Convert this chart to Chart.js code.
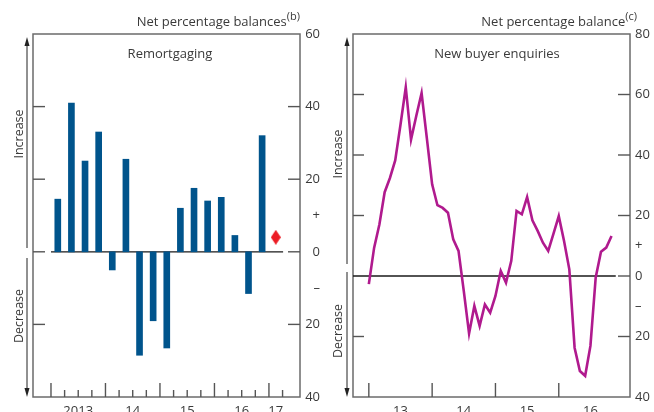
<!DOCTYPE html>
<html>
<head>
<meta charset="utf-8">
<script src="https://cdn.jsdelivr.net/npm/chart.js@4.4.0/dist/chart.umd.min.js"></script>
<style>
  body { margin: 0; background: #fff; }
  #wrap { position: relative; width: 654px; height: 412px; overflow: hidden; }
  .panel { position: absolute; top: 0; width: 327px; height: 412px; }
</style>
</head>
<body>
<div id="wrap">
  <div class="panel" style="left:0"><canvas id="left"></canvas></div>
  <div class="panel" style="left:327px"><canvas id="right"></canvas></div>
</div>
<script>
// Remortgaging, quarterly net balances
let remortQuarters = ['2013Q1','2013Q2','2013Q3','2013Q4','2014Q1','2014Q2','2014Q3','2014Q4',
                      '2015Q1','2015Q2','2015Q3','2015Q4','2016Q1','2016Q2','2016Q3','2016Q4']
let remortValues = [14.5, 41, 25, 33, -5, 25.5, -28.5, -19, -26.5, 12, 17.5, 14, 15, 4.5, -11.5, 32]
let remortLatestQuarter = '2017Q1'
let remortLatestValue = 4
let remortYearLabels = ['2013', '14', '15', '16', '17']
let remortYearLabelPos = [2013.5, 2014.5, 2015.5, 2016.5, 2017.125]

// New buyer enquiries, monthly from Jan 2013
let enquiryStart = 2013
let enquiryValues = [-2.7, 9.3, 17, 27.7, 32.4, 38.2, 50, 62.4, 45.1, 53, 60.5, 45.5,
                     30.3, 23.4, 22.5, 20.9, 12.1, 8.3, -5, -19, -9.9, -16.5, -9.4, -12.1,
                     -6.6, 1.7, -2.2, 5, 21.5, 20.4, 26.1, 18.4, 14.9, 11, 8.3, 14,
                     19.8, 11.6, 2.2, -23.7, -31.4, -33, -23.1, -0.5, 8, 9.4, 13.2]
let enquiryYearLabels = ['13', '14', '15', '16']
let enquiryYearLabelPos = [2013.5, 2014.5, 2015.5, 2016.5]

let font = "'Open Sans', 'Noto Sans', sans-serif"
let textColor = '#3a3a3a'

function quarterToX(q) {
    return Number(q.slice(0, 4)) + (Number(q.slice(5)) - 1) * 0.25 + 0.125
}

function diamond(w, h, color) {
    let c = document.createElement('canvas')
    c.width = w
    c.height = h
    let g = c.getContext('2d')
    g.fillStyle = color
    g.beginPath()
    g.moveTo(w / 2, 0)
    g.lineTo(w, h / 2)
    g.lineTo(w / 2, h)
    g.lineTo(0, h / 2)
    g.closePath()
    g.fill()
    return c
}

function yTickLabel(v) {
    if (v === 10) return '+'
    if (v === -10) return '\u2013'
    if (v % 20 === 0) return String(Math.abs(v))
    return ''
}

function line(ctx, x1, y1, x2, y2) {
    ctx.beginPath()
    ctx.moveTo(x1, y1)
    ctx.lineTo(x2, y2)
    ctx.stroke()
}

function arrowHead(ctx, x, y, dir) {
    ctx.beginPath()
    ctx.moveTo(x, y)
    ctx.lineTo(x - 2.5, y - dir * 9)
    ctx.lineTo(x + 2.5, y - dir * 9)
    ctx.closePath()
    ctx.fill()
}

// frame, inward ticks, zero line and the labels around each panel
function decor(cfg) {
    return {
        id: 'decor',
        beforeDatasetsDraw(chart) {
            let ctx = chart.ctx
            let a = chart.chartArea
            let x = chart.scales.x
            let y = chart.scales.y
            ctx.save()
            ctx.strokeStyle = '#6b6b6b'
            ctx.lineWidth = 1.5
            ctx.strokeRect(a.left, a.top, a.width, a.height)
            ctx.strokeStyle = '#555'
            ctx.lineWidth = 1.4
            cfg.leftTicks.forEach(v => {
                let py = y.getPixelForValue(v)
                line(ctx, a.left, py, a.left + cfg.tickLen, py)
            })
            cfg.rightTicks.forEach(v => {
                let py = y.getPixelForValue(v)
                line(ctx, a.right - 12, py, a.right, py)
            })
            cfg.majorX.forEach(v => {
                let px = x.getPixelForValue(v)
                line(ctx, px, a.bottom, px, a.bottom - 14)
            })
            cfg.minorX.forEach(v => {
                let px = x.getPixelForValue(v)
                line(ctx, px, a.bottom, px, a.bottom - 7)
            })
            ctx.strokeStyle = '#1a1a1a'
            ctx.lineWidth = 1.3
            let y0 = y.getPixelForValue(0)
            line(ctx, x.getPixelForValue(cfg.zeroFrom), y0, x.getPixelForValue(cfg.zeroTo), y0)
            ctx.restore()
        },
        afterDraw(chart) {
            let ctx = chart.ctx
            ctx.save()
            ctx.fillStyle = textColor
            ctx.textBaseline = 'alphabetic'
            // header with superscript
            ctx.font = '11px ' + font
            let supW = ctx.measureText(cfg.sup).width
            ctx.textAlign = 'right'
            ctx.fillText(cfg.sup, cfg.headerRight, 20)
            ctx.font = '13px ' + font
            ctx.fillText(cfg.header, cfg.headerRight - supW, 26)
            // panel title
            ctx.textAlign = 'center'
            ctx.fillText(cfg.title, cfg.titleX, 58)
            // increase / decrease
            ctx.font = '12.5px ' + font
            ctx.textBaseline = 'middle'
            ;[['Increase', cfg.incY], ['Decrease', cfg.decY]].forEach(t => {
                ctx.save()
                ctx.translate(cfg.textX, t[1])
                ctx.rotate(-Math.PI / 2)
                ctx.fillText(t[0], 0, 0)
                ctx.restore()
            })
            ctx.strokeStyle = '#222'
            ctx.fillStyle = '#222'
            ctx.lineWidth = 1
            line(ctx, cfg.arrowX, cfg.up[0] + 6, cfg.arrowX, cfg.up[1])
            arrowHead(ctx, cfg.arrowX, cfg.up[0], -1)
            line(ctx, cfg.arrowX, cfg.down[0], cfg.arrowX, cfg.down[1] - 6)
            arrowHead(ctx, cfg.arrowX, cfg.down[1], 1)
            ctx.restore()
        }
    }
}

function yScale(min, max, align, width) {
    return {
        position: 'right',
        min: min,
        max: max,
        afterFit: s => { s.width = width },
        grid: { display: false, drawTicks: false },
        border: { display: false },
        ticks: {
            stepSize: 10,
            padding: 5,
            crossAlign: align,
            color: textColor,
            font: { family: font, size: 13 },
            callback: v => yTickLabel(v)
        }
    }
}

function xScale(min, max, pos, labels) {
    return {
        type: 'linear',
        min: min,
        max: max,
        offset: false,
        afterFit: s => { s.height = 15 },
        afterBuildTicks: s => { s.ticks = pos.map(v => ({ value: v })) },
        grid: { display: false, drawTicks: false, offset: false },
        border: { display: false },
        ticks: {
            autoSkip: false,
            maxRotation: 0,
            padding: 6,
            color: textColor,
            font: { family: font, size: 13 },
            callback: (v, i) => labels[i]
        }
    }
}

let commonPlugins = { legend: { display: false }, tooltip: { enabled: false } }

let years = [2013, 2014, 2015, 2016, 2017]
let quarterTicks = []
years.forEach(y => { if (y < 2017) [0.25, 0.5, 0.75].forEach(f => quarterTicks.push(y + f)) })
quarterTicks.push(2017.25)

new Chart(document.getElementById('left'), {
    type: 'bar',
    data: {
        datasets: [
            {
                type: 'bar',
                data: remortQuarters.map((q, i) => ({ x: quarterToX(q), y: remortValues[i] })),
                backgroundColor: '#00548c',
                barThickness: 6
            },
            {
                type: 'line',
                data: [{ x: quarterToX(remortLatestQuarter), y: remortLatestValue }],
                showLine: false,
                pointStyle: diamond(10, 15, '#ec1c24'),
                pointRadius: 7
            }
        ]
    },
    options: {
        animation: false,
        responsive: true,
        maintainAspectRatio: false,
        layout: { padding: { top: 34, left: 33, right: 7, bottom: 0 } },
        plugins: commonPlugins,
        scales: {
            x: xScale(2012.67, 2017.57, remortYearLabelPos, remortYearLabels),
            y: yScale(-40, 60, 'far', 20)
        }
    },
    plugins: [decor({
        leftTicks: [40, 20, 0, -20], rightTicks: [40, 20, 0, -20], tickLen: 12,
        majorX: years, minorX: quarterTicks, zeroFrom: 2013, zeroTo: 2017.26,
        header: 'Net percentage balances', sup: '(b)', headerRight: 300,
        title: 'Remortgaging', titleX: 170,
        textX: 19, incY: 134, decY: 316, arrowX: 27, up: [37, 248], down: [258, 397]
    })]
})

new Chart(document.getElementById('right'), {
    type: 'line',
    data: {
        datasets: [{
            data: enquiryValues.map((v, i) => ({ x: enquiryStart + i / 12, y: v })),
            borderColor: '#b01a8e',
            borderWidth: 2.6,
            pointRadius: 0,
            tension: 0
        }]
    },
    options: {
        animation: false,
        responsive: true,
        maintainAspectRatio: false,
        layout: { padding: { top: 34, left: 26, right: 0, bottom: 0 } },
        plugins: commonPlugins,
        scales: {
            x: xScale(2012.75, 2017.125, enquiryYearLabelPos, enquiryYearLabels),
            y: yScale(-40, 80, 'near', 24)
        }
    },
    plugins: [decor({
        leftTicks: [60, 40, 20, -20], rightTicks: [60, 40, 20, 0, -20], tickLen: 11,
        majorX: [2013, 2014, 2015, 2016], minorX: [], zeroFrom: 2012.75, zeroTo: 2016.9,
        header: 'Net percentage balance', sup: '(c)', headerRight: 310,
        title: 'New buyer enquiries', titleX: 170,
        textX: 11, incY: 154, decY: 331, arrowX: 20, up: [37, 264], down: [272, 397]
    })]
})
</script>
</body>
</html>
